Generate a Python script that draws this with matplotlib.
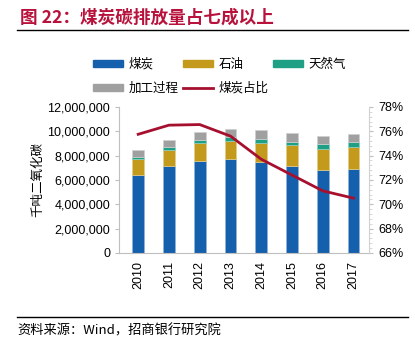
import numpy as np
import matplotlib
matplotlib.use('Agg')
import matplotlib.pyplot as plt
from matplotlib.patches import Patch
from matplotlib.lines import Line2D
from matplotlib.ticker import FuncFormatter, MultipleLocator

plt.rcParams['font.family'] = ['Liberation Sans', 'Noto Sans CJK SC', 'DejaVu Sans']

# data (kt CO2)
years = ['2010', '2011', '2012', '2013', '2014', '2015', '2016', '2017']
coal = [6390000, 7140000, 7580000, 7720000, 7470000, 7140000, 6830000, 6890000]
oil = [1330000, 1360000, 1450000, 1500000, 1590000, 1690000, 1750000, 1800000]
gas = [170000, 190000, 250000, 280000, 270000, 310000, 360000, 420000]
process = [580000, 620000, 660000, 720000, 750000, 720000, 700000, 700000]
coal_share = [75.75, 76.5, 76.55, 75.6, 73.7, 72.4, 71.1, 70.5]

c_coal = '#1560AD'
c_oil = '#C49A1C'
c_gas = '#1FA085'
c_proc = '#A0A0A0'
c_line = '#A6102E'
red = '#B8123C'

fig = plt.figure(figsize=(4.15, 3.46), dpi=100)
ax = fig.add_axes([0.287, 0.269, 0.602, 0.422])

x = np.arange(len(years))
w = 0.38
b1 = np.array(coal)
b2 = b1 + np.array(oil)
b3 = b2 + np.array(gas)
ax.bar(x, coal, w, color=c_coal, edgecolor='#8FB3DA', linewidth=0.5)
ax.bar(x, oil, w, bottom=b1, color=c_oil, edgecolor='#E3CC88', linewidth=0.5)
ax.bar(x, gas, w, bottom=b2, color=c_gas, edgecolor='#8ED0C2', linewidth=0.5)
ax.bar(x, process, w, bottom=b3, color=c_proc, edgecolor='#D0D0D0', linewidth=0.5)

ax.set_xlim(-0.62, 7.5)
ax.set_ylim(0, 12000000)
ax.yaxis.set_major_locator(MultipleLocator(2000000))
ax.yaxis.set_major_formatter(FuncFormatter(lambda v, p: '{:,.0f}'.format(v)))
ax.set_xticks(x)
ax.set_xticklabels(years, rotation=90)
ax.tick_params(axis='both', labelsize=9, color='#BFBFBF', length=3)
ax.tick_params(axis='x', length=0, pad=6)
for s in ['top', 'right']:
    ax.spines[s].set_visible(False)
for s in ['left', 'bottom']:
    ax.spines[s].set_color('#BFBFBF')
ax.set_ylabel('千吨二氧化碳', fontsize=9, family=['Noto Sans CJK SC'], labelpad=2)

ax2 = ax.twinx()
ax2.plot(x, coal_share, color=c_line, linewidth=2)
ax2.set_ylim(66, 78)
ax2.yaxis.set_major_locator(MultipleLocator(2))
ax2.yaxis.set_minor_locator(MultipleLocator(0.4))
ax2.yaxis.set_major_formatter(FuncFormatter(lambda v, p: '%d%%' % v))
ax2.tick_params(axis='y', labelsize=9, color='#BFBFBF', length=3)
ax2.tick_params(axis='y', which='minor', color='#D0D0D0', length=2)
for s in ['top', 'left', 'bottom']:
    ax2.spines[s].set_visible(False)
ax2.spines['right'].set_color('#D0D0D0')

handles = [Patch(color=c_coal), Patch(color=c_proc), Patch(color=c_oil),
           Line2D([], [], color=c_line, linewidth=2), Patch(color=c_gas)]
labels = ['煤炭', '加工过程', '石油', '煤炭占比', '天然气']
fig.legend(handles, labels, ncol=3, loc='upper left', bbox_to_anchor=(0.198, 0.866),
           frameon=False, prop={'family': 'Noto Sans CJK SC', 'size': 9},
           handlelength=2.4, handleheight=0.45, columnspacing=0.4,
           handletextpad=0.4, labelspacing=0.9)

fig.text(0.048, 0.948, '图 22：煤炭碳排放量占七成以上', fontsize=12.7, fontweight='bold',
         color=red, family=['Noto Sans CJK SC'], va='center')
fig.add_artist(Line2D([0.041, 0.983], [0.913, 0.913], color='black', linewidth=1))
fig.add_artist(Line2D([0.041, 0.983], [0.084, 0.084], color='black', linewidth=1))
fig.text(0.041, 0.043, '资料来源：Wind，招商银行研究院', fontsize=9.5,
         family=['Noto Sans CJK SC'], va='center')

fig.savefig('out.png', dpi=100)
